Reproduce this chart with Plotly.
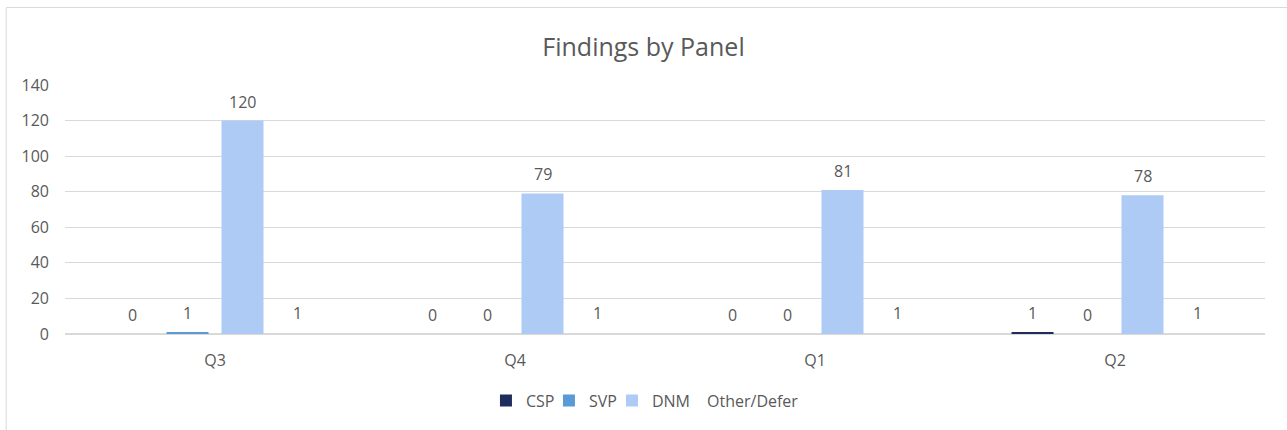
import plotly.graph_objects as go

categories = ["Q3", "Q4", "Q1", "Q2"]
series_names = ["CSP", "SVP", "DNM", "Other/Defer"]
csp = [0, 0, 0, 1]
svp = [1, 0, 0, 0]
dnm = [120, 79, 81, 78]
other = [1, 1, 1, 1]
series_values = [csp, svp, dnm, other]
colors = ["#1f2d5c", "#5b9bd5", "#adcbf5", "rgba(255,255,255,0)"]
legend_ids = ["legend", "legend2", "legend3", "legend4"]
legend_x = [0.3508, 0.4033, 0.4558, 0.5017]

FONT = "Open Sans, Liberation Sans, sans-serif"
TXT = "#595959"

fig = go.Figure()
for name, vals, col, lg in zip(series_names, series_values, colors, legend_ids):
    fig.add_trace(go.Bar(name=name, x=categories, y=vals, marker_color=col,
                         marker_line_width=0, legend=lg, showlegend=True))

# data labels with white background, offset by series position within group
slot_px = 55
annotations = []
for i, vals in enumerate(series_values):
    for c, v in zip(categories, vals):
        annotations.append(dict(
            x=c, y=v, xref="x", yref="y", text=str(v), showarrow=False,
            xshift=(i - 1.5) * slot_px, yshift=19, bgcolor="white",
            font=dict(family=FONT, size=16, color=TXT), borderpad=2))

legends = {}
for lg, lx in zip(legend_ids, legend_x):
    legends[lg] = dict(orientation="h", x=lx, xanchor="left", y=-0.267, yanchor="middle",
                       font=dict(family=FONT, size=16, color=TXT), itemwidth=30,
                       bgcolor="rgba(0,0,0,0)")

fig.update_layout(
    width=1287, height=430,
    showlegend=True,
    paper_bgcolor="white", plot_bgcolor="white",
    margin=dict(l=65, r=22, t=85, b=94),
    title=dict(text="Findings by Panel", x=0.5, xanchor="center", y=0.89, yanchor="middle",
               font=dict(family=FONT, size=25, color=TXT)),
    barmode="group", bargap=0.267, bargroupgap=0.236,
    font=dict(family=FONT, size=16, color=TXT),
    annotations=annotations,
    shapes=[
        dict(type="line", xref="paper", yref="paper", x0=-0.049, x1=1.1, y0=1.311, y1=1.311,
             line=dict(color="#d9d9d9", width=1)),
        dict(type="line", xref="paper", yref="paper", x0=-0.049, x1=-0.049, y0=1.311, y1=-0.5,
             line=dict(color="#d9d9d9", width=1)),
    ],
    **legends,
)
fig.update_yaxes(range=[0, 140], dtick=20, showgrid=True, gridcolor="#d9d9d9", gridwidth=1,
                 zeroline=True, zerolinecolor="#d9d9d9", showline=False, ticks="",
                 tickfont=dict(family=FONT, size=16, color=TXT), ticklabelstandoff=15)
fig.update_xaxes(showgrid=False, showline=True, linecolor="#d9d9d9", ticks="",
                 tickfont=dict(family=FONT, size=16, color=TXT), ticklabelstandoff=12)

fig.write_html("out.html", config={"displayModeBar": False},
               post_script="document.body.style.margin='0';")
